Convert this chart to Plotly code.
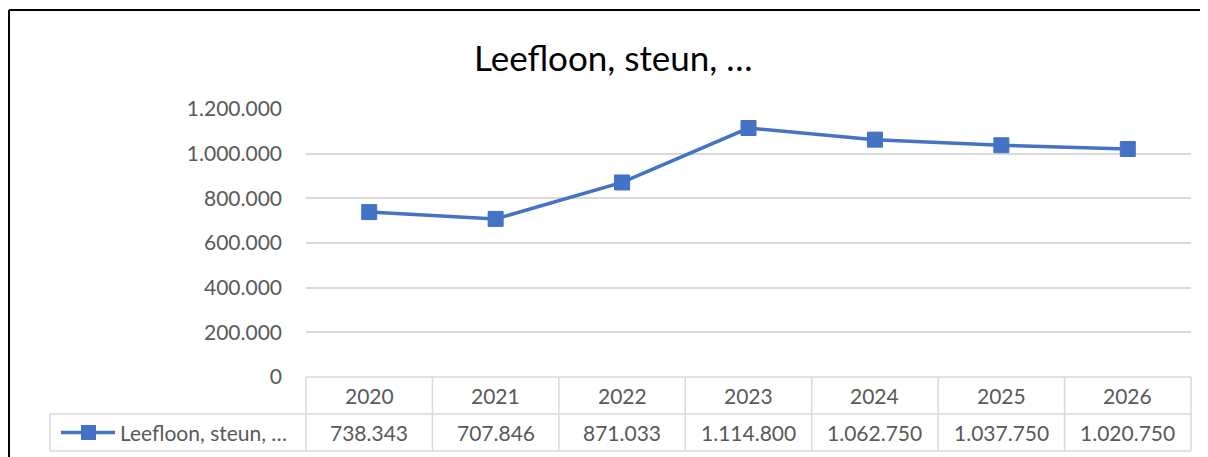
import plotly.graph_objects as go

# data
years = ["2020", "2021", "2022", "2023", "2024", "2025", "2026"]
values = [738343, 707846, 871033, 1114800, 1062750, 1037750, 1020750]
series_name = "Leefloon, steun, \u2026"
y_ticks = [0, 200000, 400000, 600000, 800000, 1000000, 1200000]

W, H = 1208, 457
OFF = 8  # page body margin
BLUE = "#4472C4"
GRID = "#D9D9D9"
TXT = "#595959"
FONT = "Lato"


def px(x):
    return (x - OFF) / W


def py(y):
    return 1 - (y - OFF) / H


def fmt(v):
    return f"{v:,}".replace(",", ".")


# plot area in screen pixels
x0, x1 = 306, 1191
y_top, y_zero = 109, 377
row1, row2 = 414, 451
leg_left = 50

fig = go.Figure()
fig.add_trace(go.Scatter(
    x=list(range(len(years))),
    y=values,
    mode="lines+markers",
    line=dict(color=BLUE, width=3.5),
    marker=dict(symbol="square", size=15, color=BLUE, line=dict(color=BLUE, width=1)),
    name=series_name,
    showlegend=False,
    hoverinfo="skip",
))

shapes = []
annotations = []

# table grid
col_w = (x1 - x0) / len(years)
line_style = dict(color=GRID, width=1.5)
shapes.append(dict(type="line", xref="paper", yref="paper", x0=px(x0), x1=px(x1),
                   y0=py(y_zero), y1=py(y_zero), line=line_style))
shapes.append(dict(type="line", xref="paper", yref="paper", x0=px(leg_left), x1=px(x1),
                   y0=py(row1), y1=py(row1), line=line_style))
shapes.append(dict(type="line", xref="paper", yref="paper", x0=px(leg_left), x1=px(x1),
                   y0=py(row2), y1=py(row2), line=line_style))
shapes.append(dict(type="line", xref="paper", yref="paper", x0=px(leg_left), x1=px(leg_left),
                   y0=py(row1), y1=py(row2), line=line_style))
for k in range(len(years) + 1):
    xx = x0 + k * col_w
    shapes.append(dict(type="line", xref="paper", yref="paper", x0=px(xx), x1=px(xx),
                       y0=py(y_zero), y1=py(row2), line=line_style))

cell_font = dict(size=21, color=TXT, family=FONT)
for k, (yr, v) in enumerate(zip(years, values)):
    cx = x0 + (k + 0.5) * col_w
    annotations.append(dict(text=yr, x=px(cx), y=py((y_zero + row1) / 2), xref="paper", yref="paper",
                            xanchor="center", yanchor="middle", showarrow=False, font=cell_font))
    annotations.append(dict(text=fmt(v), x=px(cx), y=py((row1 + row2) / 2), xref="paper", yref="paper",
                            xanchor="center", yanchor="middle", showarrow=False, font=cell_font))

# legend key inside table
ky = (row1 + row2) / 2
shapes.append(dict(type="line", xref="paper", yref="paper", x0=px(61), x1=px(115),
                   y0=py(ky), y1=py(ky), line=dict(color=BLUE, width=3.5)))
shapes.append(dict(type="rect", xref="paper", yref="paper", x0=px(81), x1=px(96),
                   y0=py(ky - 7.5), y1=py(ky + 7.5), fillcolor=BLUE, line=dict(width=0)))
annotations.append(dict(text=series_name, x=px(118), y=py(ky), xref="paper", yref="paper",
                        xanchor="left", yanchor="middle", showarrow=False, font=cell_font))

# outer frame (partially visible)
shapes.append(dict(type="line", xref="paper", yref="paper", x0=px(9), x1=1,
                   y0=py(10), y1=py(10), line=dict(color="black", width=2)))
shapes.append(dict(type="line", xref="paper", yref="paper", x0=px(9), x1=px(9),
                   y0=py(10), y1=0, line=dict(color="black", width=2)))

# title
annotations.append(dict(text=series_name, x=px(613), y=py(57), xref="paper", yref="paper",
                        xanchor="center", yanchor="middle", showarrow=False,
                        font=dict(size=35, color="black", family=FONT)))

fig.update_layout(
    width=W, height=H,
    margin=dict(l=0, r=0, t=0, b=0, autoexpand=False),
    paper_bgcolor="white",
    plot_bgcolor="white",
    separators=",.",
    shapes=shapes,
    annotations=annotations,
    xaxis=dict(domain=[px(x0), px(x1)], range=[-0.5, len(years) - 0.5],
               showgrid=False, zeroline=False, showticklabels=False, showline=False),
    yaxis=dict(domain=[py(y_zero), py(y_top)], range=[0, 1200000], tickvals=y_ticks,
               tickformat=",d", showgrid=True, gridcolor=GRID, gridwidth=1.5, zeroline=False,
               showline=False, ticklabelstandoff=23, automargin=False,
               tickfont=dict(size=21, color=TXT, family=FONT)),
)

fig.write_html("out.html")
